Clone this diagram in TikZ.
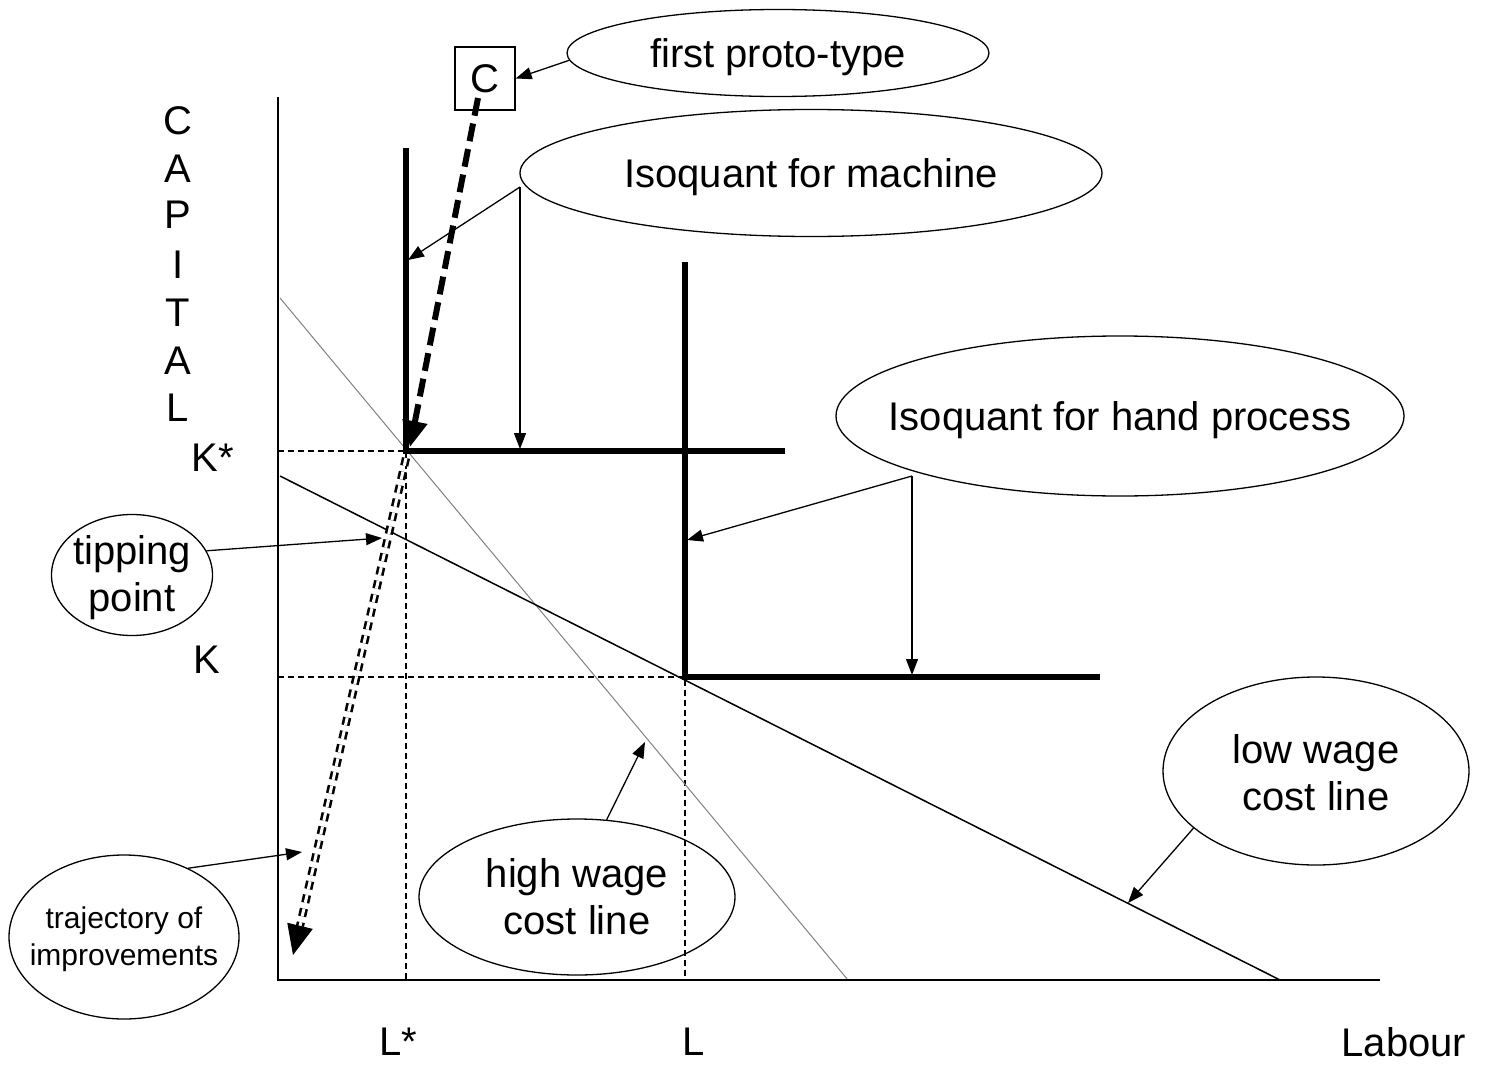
\documentclass[tikz,border=0pt]{standalone}
\usepackage{fontspec}
\setmainfont{Liberation Sans}
\usetikzlibrary{arrows.meta,shapes.geometric,calc}
\begin{document}
\begin{tikzpicture}[x=1pt,y=-1pt,
  lbl/.style={font=\fontsize{40}{47}\selectfont, inner sep=0pt, align=center},
  small/.style={font=\fontsize{30}{37}\selectfont, inner sep=0pt, align=center},
  bubble/.style={draw, ellipse, line width=1.3pt, inner sep=0pt},
  ptr/.style={line width=1.3pt, -{Triangle[length=16pt,width=12pt]}},
  axis/.style={line width=1.8pt},
  iso/.style={line width=6pt},
  guide/.style={line width=1.3pt, dash pattern=on 6pt off 4pt},
]
\useasboundingbox (0,0) rectangle (1489,1065);

% coordinates
\coordinate (O) at (278,980);
\coordinate (ytop) at (278,97);
\coordinate (xend) at (1380,980);
\coordinate (mtop) at (406,148);
\coordinate (mcorner) at (406,451);
\coordinate (mend) at (785,451);
\coordinate (htop) at (685,262);
\coordinate (hcorner) at (685,677);
\coordinate (hend) at (1100,677);
\coordinate (kstar) at (278,451);
\coordinate (k) at (278,677);
\coordinate (lstar) at (406,980);
\coordinate (l) at (685,980);
\coordinate (hw1) at (280,298);
\coordinate (hw2) at (848,980);
\coordinate (lw1) at (280,476);
\coordinate (lw2) at (1280,980);

% guides
\draw[guide] (kstar) -- (mcorner) -- (lstar);
\draw[guide] (k) -- (hcorner) -- (l);

% cost lines
\draw[line width=1pt, gray] (hw1) -- (hw2);
\draw[line width=1.5pt] (lw1) -- (lw2);

% axes
\draw[axis] (ytop) -- (O) -- (xend);

% isoquants
\draw[iso] (mtop) -- (mcorner) -- (mend);
\draw[iso] (htop) -- (hcorner) -- (hend);

% labels
\foreach \ch/\yy in {C/121,A/169,P/215,I/265,T/313,A/361,L/408}
  \node[lbl] (cap\yy) at (178,\yy) {\ch};
\node[lbl] (Kst) at (213,458) {K*};
\node[lbl] (Kl) at (207,660) {K};
\node[lbl] (Lst) at (398,1042) {L*};
\node[lbl] (Ll) at (694,1042) {L};
\node[lbl] (Lab) at (1404,1042) {Labour};

% C box
\node[draw, line width=1.3pt, minimum width=60pt, minimum height=63pt, inner sep=0pt, font=\fontsize{40}{47}\selectfont] (cbox) at (485,78.5) {C};

% ellipses
\node[bubble, minimum width=422pt, minimum height=87pt] (proto) at (778,53) {};
\node[lbl] (protot) at ($(proto)+(0,4)$) {first proto-type};
\node[bubble, minimum width=582pt, minimum height=127pt] (mach) at (811,173) {};
\node[lbl] (macht) at ($(mach)+(0,4)$) {Isoquant for machine};
\node[bubble, minimum width=568pt, minimum height=160pt] (hand) at (1120,416) {};
\node[lbl] (handt) at ($(hand)+(0,4)$) {Isoquant for hand process};
\node[bubble, minimum width=161pt, minimum height=121pt] (tip) at (132,575) {};
\node[lbl] (tipt) at ($(tip)+(0,3)$) {tipping\\point};
\node[bubble, minimum width=230pt, minimum height=164pt] (traj) at (124,937) {};
\node[small] (trajt) at ($(traj)+(0,2)$) {trajectory of\\improvements};
\node[bubble, minimum width=316pt, minimum height=156pt] (high) at (577,897) {};
\node[lbl] (hight) at (high) {high wage\\cost line};
\node[bubble, minimum width=306pt, minimum height=188pt] (low) at (1316,771) {};
\node[lbl] (lowt) at ($(low)+(0,2)$) {low wage\\cost line};

% pointer starts and targets
\coordinate (smach) at (520,187);
\coordinate (shand) at (912,476);
\coordinate (tmv) at (408,260);
\coordinate (tmh) at (520,449);
\coordinate (thv) at (687,540);
\coordinate (thh) at (912,675);
\coordinate (ttip) at (382,538);
\coordinate (ttraj) at (302,852);
\coordinate (thigh) at (645,742);
\coordinate (tlow) at (1128,903);

% pointers
\draw[ptr] (proto.182) -- (cbox.east);
\draw[ptr] (smach) -- (tmv);
\draw[ptr] (smach) -- (tmh);
\draw[ptr] (shand) -- (thv);
\draw[ptr] (shand) -- (thh);
\draw[ptr] (tip.18) -- (ttip);
\draw[ptr] (traj.47) -- (ttraj);
\draw[ptr] (high.69) -- (thigh);
\draw[ptr] (low.205) -- (tlow);

% first prototype trajectory (thick dashed)
\coordinate (cstart) at (478,98);
\coordinate (ctip) at (410,447);
\draw[line width=6pt, dash pattern=on 18pt off 8pt, -{Triangle[length=26pt,width=24pt]}] (cstart) -- (ctip);

% trajectory of improvements (double dashed)
\coordinate (tstart) at (406,458);
\coordinate (tbase) at (300,926);
\coordinate (tend) at (293,955);
\draw[line width=2.6pt, double=white, double distance=3pt, dash pattern=on 8pt off 6pt] (tstart) -- (tbase);
\draw[line width=1pt, -{Triangle[length=30pt,width=26pt]}] ($(tbase)!0.9!(tend)$) -- (tend);
\end{tikzpicture}
\end{document}
